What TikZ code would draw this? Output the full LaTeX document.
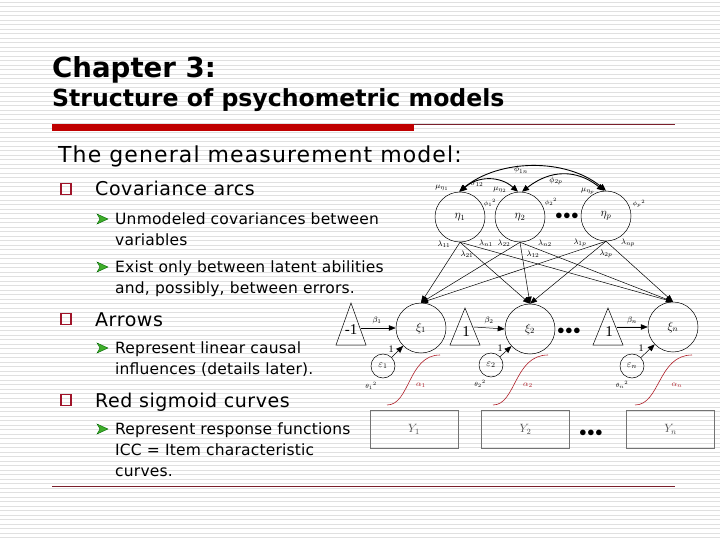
\documentclass[tikz,border=0pt]{standalone}
\usepackage{fontspec}
\setmainfont{DejaVu Sans}
\newfontfamily\serifrm{Liberation Serif}
\newfontfamily\bodyA[LetterSpace=5]{DejaVu Sans}
\newfontfamily\bodyB[LetterSpace=3]{DejaVu Sans}
\newfontfamily\bodyC[LetterSpace=1.3]{DejaVu Sans}
\usetikzlibrary{arrows.meta}
\definecolor{barred}{HTML}{C00000}
\definecolor{linered}{HTML}{7A1F2B}
\definecolor{bulred}{HTML}{A0142A}
\definecolor{bulgreen}{HTML}{3FAE2A}
\definecolor{sigred}{HTML}{B0202A}
\begin{document}
\begin{tikzpicture}[x=1pt,y=-1pt,
  fs/.style={font=\fontsize{#1}{#1}\selectfont},
  txt/.style={anchor=base west,inner sep=0pt},
  head/.style={txt,font=\bodyB\fontsize{19}{19}\selectfont},
  sub/.style={txt,font=\bodyC\fontsize{15.5}{15.5}\selectfont},
  lat/.style={circle,draw,line width=0.5pt,minimum size=50pt,inner sep=0pt},
  err/.style={circle,draw,line width=0.5pt,minimum size=24pt,inner sep=0pt},
  ybox/.style={draw=black!55,line width=0.8pt,minimum width=88pt,minimum height=38pt,inner sep=0pt},
  arr/.style={line width=0.5pt,-{Triangle[length=7pt,width=5.5pt]}},
  cov/.style={line width=0.9pt,{Triangle[length=7pt,width=6pt]}-{Triangle[length=7pt,width=6pt]}},
  lab/.style={inner sep=0pt,font=\fontsize{8}{8}\selectfont},
  labs/.style={inner sep=0pt,font=\fontsize{6.5}{6.5}\selectfont},
  sig/.style={draw=sigred,line width=0.6pt},
  dots/.style={inner sep=0pt,font=\fontsize{14}{14}\selectfont}
]
\useasboundingbox (0,0) rectangle (720,540);
\fill[white] (0,0) rectangle (720,540);
% background stripes
\foreach \k in {0,...,119} {\draw[black!12,line width=0.45pt] (0,{2+4.5*\k}) -- (720,{2+4.5*\k});}

% titles
\node[txt,fs=27.6] (t1) at (52,78) {\bfseries Chapter 3:};
\node[txt,fs=23.6] (t2) at (52,107) {\bfseries Structure of psychometric models};
\fill[barred] (52,124) rectangle (414,131);
\draw[linered,line width=0.8pt] (414,124.5) -- (675,124.5);
\draw[linered,line width=1pt] (52,486) -- (675,486);

% body text
\node[txt,font=\bodyA\fontsize{22}{22}\selectfont] (h0) at (58,163) {The general measurement model:};
\foreach \yy/\name in {189/q1,319/q2,400/q3} {
  \draw[bulred,line width=1.6pt] (61,{\yy-5.5}) rectangle (71,{\yy+5.5});
}
\foreach \yy in {219,267,348,429} {
  \filldraw[draw=green!40!black,fill=bulgreen,line width=0.4pt] (97,{\yy-5}) -- (108,\yy) -- (97,{\yy+5}) -- (100,\yy) -- cycle;
}
\node[head] (h1) at (95,196) {Covariance arcs};
\node[sub] (s1) at (115,224.5) {Unmodeled covariances between};
\node[sub] (s1b) at (115,245.5) {variables};
\node[sub] (s2) at (115,272.5) {Exist only between latent abilities};
\node[sub] (s2b) at (115,293.5) {and, possibly, between errors.};
\node[head] (h2) at (95,326) {Arrows};
\node[sub] (s3) at (115,353.5) {Represent linear causal};
\node[sub] (s3b) at (115,374.5) {influences (details later).};
\node[head] (h3) at (95,407) {Red sigmoid curves};
\node[sub] (s4) at (115,434.5) {Represent response functions};
\node[sub] (s4b) at (115,455.5) {ICC = Item characteristic};
\node[sub] (s4c) at (115,476.5) {curves.};

% latent abilities
\node[lat] (eta1) at (460,217) {\fontsize{12}{12}\selectfont$\eta_1$};
\node[lat] (eta2) at (520,217) {\fontsize{12}{12}\selectfont$\eta_2$};
\node[lat] (etap) at (606,216) {\fontsize{12}{12}\selectfont$\eta_p$};
\node[dots] (d1) at (567,216) {$\bullet\!\bullet\!\bullet$};

% covariance arcs
\draw[cov] ([xshift=-1pt]eta1.north) .. controls +(40,-33) and +(-40,-33) .. (etap.north);
\draw[cov] (eta1.north) .. controls +(18,-16) and +(-18,-16) .. ([xshift=-2pt]eta2.north);
\draw[cov] ([xshift=2pt]eta2.north) .. controls +(28,-22) and +(-28,-22) .. ([xshift=-2pt]etap.north);
\node[lab] (l1) at (521,170) {$\phi_{1n}$};
\node[lab] (l2) at (477,184) {$\sigma_{12}$};
\node[lab] (l3) at (556,181) {$\phi_{2p}$};
\node[lab] (l4) at (442,188) {$\mu_{\eta_1}$};
\node[labs] (l5) at (490,203) {$\phi_1{}^2$};
\node[lab] (l6) at (500,190) {$\mu_{\eta_2}$};
\node[labs] (l7) at (551,202) {$\phi_2{}^2$};
\node[lab] (l8) at (588,191) {$\mu_{\eta_p}$};
\node[labs] (l9) at (639,204) {$\phi_p{}^2$};

% observed-level latent
\node[lat] (xi1) at (421,328) {\fontsize{12}{12}\selectfont$\xi_1$};
\node[lat] (xi2) at (530,329) {\fontsize{12}{12}\selectfont$\xi_2$};
\node[lat] (xin) at (673,327) {\fontsize{12}{12}\selectfont$\xi_n$};
\node[dots] (d2) at (569,331) {$\bullet\!\bullet\!\bullet$};

% loadings
\foreach \e in {eta1,eta2,etap} {
  \foreach \x in {xi1,xi2,xin} {
    \draw[arr] (\e.south) -- (\x.north);
  }
}
\node[lab] (m1) at (444,244) {$\lambda_{11}$};
\node[lab] (m2) at (467,254) {$\lambda_{21}$};
\node[lab] (m3) at (486,243) {$\lambda_{n1}$};
\node[lab] (m4) at (504,243) {$\lambda_{22}$};
\node[lab] (m5) at (533,254) {$\lambda_{12}$};
\node[lab] (m6) at (545,243) {$\lambda_{n2}$};
\node[lab] (m7) at (580,243) {$\lambda_{1p}$};
\node[lab] (m8) at (606,254) {$\lambda_{2p}$};
\node[lab] (m9) at (628,243) {$\lambda_{np}$};

% triangles (constants)
\draw[line width=0.5pt] (351,303) -- (366,345) -- (336,345) -- cycle;
\draw[line width=0.5pt] (465,308) -- (480,345) -- (450,345) -- cycle;
\draw[line width=0.5pt] (608,308) -- (623,345) -- (593,345) -- cycle;
\node[inner sep=0pt,font=\serifrm\fontsize{15}{15}\selectfont] (c1) at (351,330) {-1};
\node[inner sep=0pt,font=\serifrm\fontsize{15}{15}\selectfont] (c2) at (466,332) {1};
\node[inner sep=0pt,font=\serifrm\fontsize{15}{15}\selectfont] (c3) at (609,332) {1};
\coordinate (b1s) at (361,328);
\coordinate (b2s) at (474,327);
\coordinate (b3s) at (617,327);
\draw[arr] (b1s) -- (xi1.west);
\draw[arr] (b2s) -- (xi2.west);
\draw[arr] (b3s) -- (xin.west);
\node[lab] (bl1) at (377,320) {$\beta_1$};
\node[lab] (bl2) at (489,320) {$\beta_2$};
\node[lab] (bl3) at (632,320) {$\beta_n$};

% errors
\node[err] (eps1) at (383,366) {\fontsize{10}{10}\selectfont$\varepsilon_1$};
\node[err] (eps2) at (491,365) {\fontsize{10}{10}\selectfont$\varepsilon_2$};
\node[err] (epsn) at (632,366) {\fontsize{10}{10}\selectfont$\varepsilon_n$};
\draw[arr] (eps1) -- (xi1);
\draw[arr] (eps2) -- (xi2);
\draw[arr] (epsn) -- (xin);
\node[inner sep=0pt,font=\serifrm\fontsize{10}{10}\selectfont] (o1) at (391,349) {1};
\node[inner sep=0pt,font=\serifrm\fontsize{10}{10}\selectfont] (o2) at (500,348) {1};
\node[inner sep=0pt,font=\serifrm\fontsize{10}{10}\selectfont] (o3) at (641,348) {1};
\node[labs] (th1) at (371,386) {$\theta_1{}^2$};
\node[labs] (th2) at (480,384) {$\theta_2{}^2$};
\node[labs] (th3) at (622,385) {$\theta_n{}^2$};

% sigmoid curves
\draw[sig] (387,405) .. controls (410,405) and (408,355) .. (440,355);
\draw[sig] (493,405) .. controls (516,405) and (514,355) .. (548,355);
\draw[sig] (635,405) .. controls (660,405) and (658,355) .. (692,355);
\node[lab,text=sigred] (a1) at (421,385) {$\alpha_1$};
\node[lab,text=sigred] (a2) at (528,385) {$\alpha_2$};
\node[lab,text=sigred] (a3) at (677,385) {$\alpha_n$};

% observed items
\node[ybox] (y1) at (414,429) {\fontsize{12}{12}\selectfont\color{black!70}$Y_1$};
\node[ybox] (y2) at (525.5,429) {\fontsize{12}{12}\selectfont\color{black!70}$Y_2$};
\node[ybox] (yn) at (670.5,429) {\fontsize{12}{12}\selectfont\color{black!70}$Y_n$};
\node[dots] (d3) at (591,433) {$\bullet\!\bullet\!\bullet$};
\end{tikzpicture}
\end{document}
